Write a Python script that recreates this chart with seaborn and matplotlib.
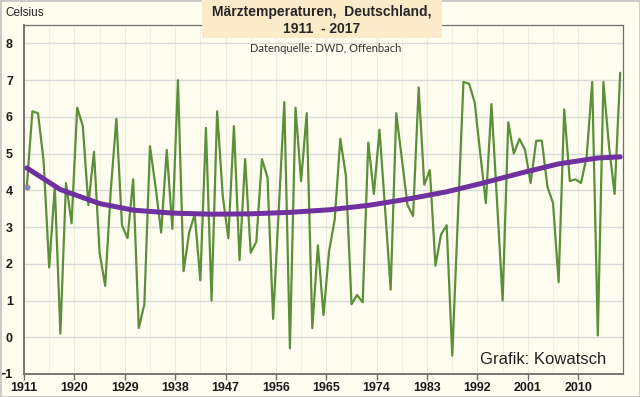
import pandas as pd
import seaborn as sns
import matplotlib.pyplot as plt
from matplotlib.patches import Rectangle

# March mean temperature, Germany
years = list(range(1911, 2018))
temps = [4.1, 6.15, 6.1, 4.8, 1.9, 4.1, 0.1, 4.2, 3.1,
         6.25, 5.75, 3.6, 5.05, 2.3, 1.4, 4.0, 5.95, 3.05,
         2.7, 4.3, 0.25, 0.9, 5.2, 4.1, 2.85, 5.1, 2.95,
         7.0, 1.8, 2.85, 3.35, 1.55, 5.7, 1.0, 6.15, 3.85,
         2.7, 5.75, 2.1, 4.85, 2.3, 2.6, 4.85, 4.35, 0.5,
         3.45, 6.4, -0.3, 6.25, 4.25, 6.1, 0.25, 2.5, 0.6,
         2.35, 3.2, 5.4, 4.4, 0.9, 1.15, 0.95, 5.3, 3.9,
         5.65, 3.5, 1.3, 6.1, 4.85, 3.6, 3.3, 6.8, 4.15,
         4.55, 1.95, 2.8, 3.05, -0.5, 3.25, 6.95, 6.9, 6.4,
         5.0, 3.65, 6.35, 3.7, 1.0, 5.85, 5.0, 5.4, 5.1,
         4.2, 5.35, 5.35, 4.1, 3.65, 1.5, 6.2, 4.25, 4.3,
         4.2, 4.9, 6.95, 0.05, 6.95, 5.2, 3.9, 7.2]

# trendline (purple)
trend_years = [1911, 1917, 1924, 1930, 1937, 1944, 1951, 1958, 1965,
               1972, 1979, 1986, 1992, 1999, 2006, 2013, 2017]
trend_vals = [4.61, 4.02, 3.64, 3.46, 3.38, 3.35, 3.36, 3.40, 3.47,
              3.59, 3.76, 3.96, 4.18, 4.46, 4.72, 4.88, 4.91]

tick_years = list(range(1911, 2018, 9))

df = pd.DataFrame({'year': years, 'temp': temps})
trend = pd.DataFrame({'year': trend_years, 'trend': trend_vals})

bg = '#FFFDF0'
sns.set_theme(style='white')
plt.rcParams['font.family'] = ['Liberation Sans', 'DejaVu Sans']

fig = plt.figure(figsize=(6.4, 3.97), dpi=100, facecolor=bg)
ax = fig.add_axes([24/640, 1-374/397, 599/640, 349/397])
ax.set_facecolor(bg)

sns.lineplot(data=df, x='year', y='temp', color='#5B8F3A', lw=1.6, ax=ax)
sns.lineplot(data=trend, x='year', y='trend', color='#7030A0', lw=3.6,
             solid_joinstyle='round', solid_capstyle='round', ax=ax)
ax.scatter(years[0], temps[0], s=14, color='#5B9BD5', edgecolor='#E07070',
           lw=0.6, zorder=5)

ax.set_xlim(1910.5, 2017.5)
ax.set_ylim(-1, 8.5)
ax.set_yticks(range(-1, 9))
ax.set_xticks([y - 0.5 for y in tick_years])
ax.set_xticklabels([str(y) for y in tick_years])
ax.set_xticks([y + 4 for y in tick_years[:-1]], minor=True)
ax.set_xlabel('')
ax.set_ylabel('')

ax.grid(axis='y', color='#DADADA', lw=1)
ax.grid(axis='x', which='major', color='#EEEBDD', lw=0.8)
ax.grid(axis='x', which='minor', color='#F3F0E2', lw=0.8)
ax.set_axisbelow(True)

for s in ['left', 'bottom']:
    ax.spines[s].set_color('#6E6E6E')
    ax.spines[s].set_linewidth(1.3)
for s in ['top', 'right']:
    ax.spines[s].set_color('#6E6E6E')
    ax.spines[s].set_linewidth(0.9)

ax.tick_params(axis='x', which='major', bottom=True, length=4, width=1,
               color='#6E6E6E', pad=2, labelsize=9)
ax.tick_params(axis='x', which='minor', bottom=False)
ax.tick_params(axis='y', left=False, length=0, pad=8, labelsize=9)
for lab in ax.get_xticklabels() + ax.get_yticklabels():
    lab.set_fontweight('bold')
    lab.set_color('#1A1A1A')

# title box
fig.patches.append(Rectangle((202/640, 1-38/397), 240/640, 38/397,
                             transform=fig.transFigure, facecolor='#FCEBC8',
                             edgecolor='none', zorder=3))
fig.text(322/640, 1-12/397, 'Märztemperaturen,  Deutschland,', ha='center',
         va='center', fontsize=10, fontweight='bold', zorder=4)
fig.text(322/640, 1-29/397, '1911  - 2017', ha='center', va='center',
         fontsize=10, fontweight='bold', zorder=4)
fig.text(326/640, 1-48/397, 'Datenquelle: DWD, Offenbach', ha='center',
         va='center', fontsize=8, family='Lato', color='#333333')
fig.text(5/640, 1-13/397, 'Celsius', ha='left', va='center', fontsize=8.5,
         color='#222222')
fig.text(606/640, 1-360/397, 'Grafik: Kowatsch', ha='right', va='center',
         fontsize=12, color='#222222')

fig.patches.append(Rectangle((0, 0), 1, 1, transform=fig.transFigure,
                             fill=False, edgecolor='#C8C8C8', lw=2))

fig.savefig('out.png', dpi=100, facecolor=bg)
